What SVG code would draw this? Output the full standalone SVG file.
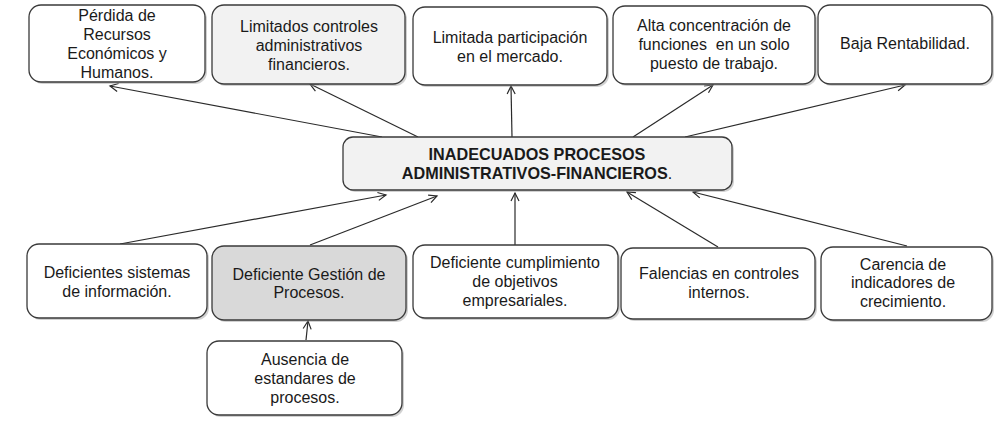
<svg xmlns="http://www.w3.org/2000/svg" width="996" height="429" viewBox="0 0 996 429">
<style>
.box{stroke:#3a3a3a;stroke-width:1.3;fill:#ffffff}
.light{fill:#f2f2f2}
.mid{fill:#d9d9d9}
.sh{fill:#9a9a9a;opacity:0.45;stroke:none}
text{font-family:"Liberation Sans",Arial,sans-serif;font-size:16px;fill:#1a1a1a;text-anchor:middle}
.b{font-weight:bold;font-size:16.2px}
.conn line{stroke:#2a2a2a;stroke-width:1.2;fill:none;marker-end:url(#arr)}
</style>
<defs>
<marker id="arr" markerUnits="userSpaceOnUse" markerWidth="12" markerHeight="12" refX="9" refY="5" orient="auto">
<path d="M1,1 L9,5 L1,9" fill="none" stroke="#2a2a2a" stroke-width="1.2"/>
</marker>
</defs>
<rect width="996" height="429" fill="#ffffff"/>

<g class="conn">
<line x1="382" y1="137" x2="110" y2="86"/>
<line x1="418" y1="137" x2="310" y2="84"/>
<line x1="512" y1="137" x2="511" y2="86"/>
<line x1="633" y1="137" x2="713" y2="85"/>
<line x1="685" y1="137" x2="905" y2="85"/>
<line x1="120" y1="244" x2="386" y2="195"/>
<line x1="310" y1="245" x2="437" y2="196"/>
<line x1="515" y1="245" x2="515" y2="193"/>
<line x1="718" y1="247" x2="627" y2="192"/>
<line x1="907" y1="246" x2="693" y2="192"/>
<line x1="306" y1="340" x2="308" y2="321"/>
</g>

<g id="n-perdida">
<rect class="sh" x="31" y="7" width="176" height="77" rx="12"/>
<rect class="box" x="29" y="5" width="176" height="77" rx="12"/>
<text x="117" y="21">Pérdida de</text>
<text x="117" y="40">Recursos</text>
<text x="117" y="59">Económicos y</text>
<text x="117" y="78">Humanos.</text>
</g>

<g id="n-limitados">
<rect class="sh" x="214" y="7" width="193" height="79" rx="12"/>
<rect class="box light" x="212" y="5" width="193" height="79" rx="12"/>
<text x="309" y="32">Limitados controles</text>
<text x="309" y="51">administrativos</text>
<text x="309" y="70">financieros.</text>
</g>

<g id="n-participacion">
<rect class="sh" x="415" y="9" width="194" height="78" rx="12"/>
<rect class="box" x="413" y="7" width="194" height="78" rx="12"/>
<text x="510" y="43">Limitada participación</text>
<text x="510" y="62">en el mercado.</text>
</g>

<g id="n-alta">
<rect class="sh" x="615" y="8" width="202" height="78" rx="12"/>
<rect class="box" x="613" y="6" width="202" height="78" rx="12"/>
<text x="714" y="31">Alta concentración de</text>
<text x="714" y="50" xml:space="preserve">funciones  en un solo</text>
<text x="714" y="69">puesto de trabajo.</text>
</g>

<g id="n-baja">
<rect class="sh" x="820" y="7" width="174" height="79" rx="12"/>
<rect class="box" x="818" y="5" width="174" height="79" rx="12"/>
<text x="905" y="49">Baja Rentabilidad.</text>
</g>

<g id="n-central">
<rect class="sh" x="345" y="139" width="389" height="53" rx="10"/>
<rect class="box light" x="343" y="137" width="389" height="53" rx="10"/>
<text class="b" x="537" y="160">INADECUADOS PROCESOS</text>
<text x="537" y="179"><tspan class="b">ADMINISTRATIVOS-FINANCIEROS</tspan>.</text>
</g>

<g id="n-sistemas">
<rect class="sh" x="29" y="246" width="180" height="74" rx="12"/>
<rect class="box" x="27" y="244" width="180" height="74" rx="12"/>
<text x="117" y="278">Deficientes sistemas</text>
<text x="117" y="297">de información.</text>
</g>

<g id="n-gestion">
<rect class="sh" x="214" y="248" width="194" height="74" rx="12"/>
<rect class="box mid" x="212" y="246" width="194" height="74" rx="12"/>
<text x="309" y="280">Deficiente Gestión de</text>
<text x="309" y="298">Procesos.</text>
</g>

<g id="n-cumplimiento">
<rect class="sh" x="415" y="247" width="205" height="73" rx="12"/>
<rect class="box" x="413" y="245" width="205" height="73" rx="12"/>
<text x="515" y="268">Deficiente cumplimiento</text>
<text x="515" y="287">de objetivos</text>
<text x="515" y="306">empresariales.</text>
</g>

<g id="n-falencias">
<rect class="sh" x="623" y="250" width="194" height="71" rx="12"/>
<rect class="box" x="621" y="248" width="194" height="71" rx="12"/>
<text x="719" y="279">Falencias en controles</text>
<text x="719" y="298">internos.</text>
</g>

<g id="n-carencia">
<rect class="sh" x="823" y="249" width="171" height="73" rx="12"/>
<rect class="box" x="821" y="247" width="171" height="73" rx="12"/>
<text x="903" y="270">Carencia de</text>
<text x="903" y="288">indicadores de</text>
<text x="903" y="307">crecimiento.</text>
</g>

<g id="n-ausencia">
<rect class="sh" x="209" y="343" width="195" height="74" rx="12"/>
<rect class="box" x="207" y="341" width="195" height="74" rx="12"/>
<text x="305" y="365">Ausencia de</text>
<text x="305" y="384">estandares de</text>
<text x="305" y="403">procesos.</text>
</g>
</svg>
